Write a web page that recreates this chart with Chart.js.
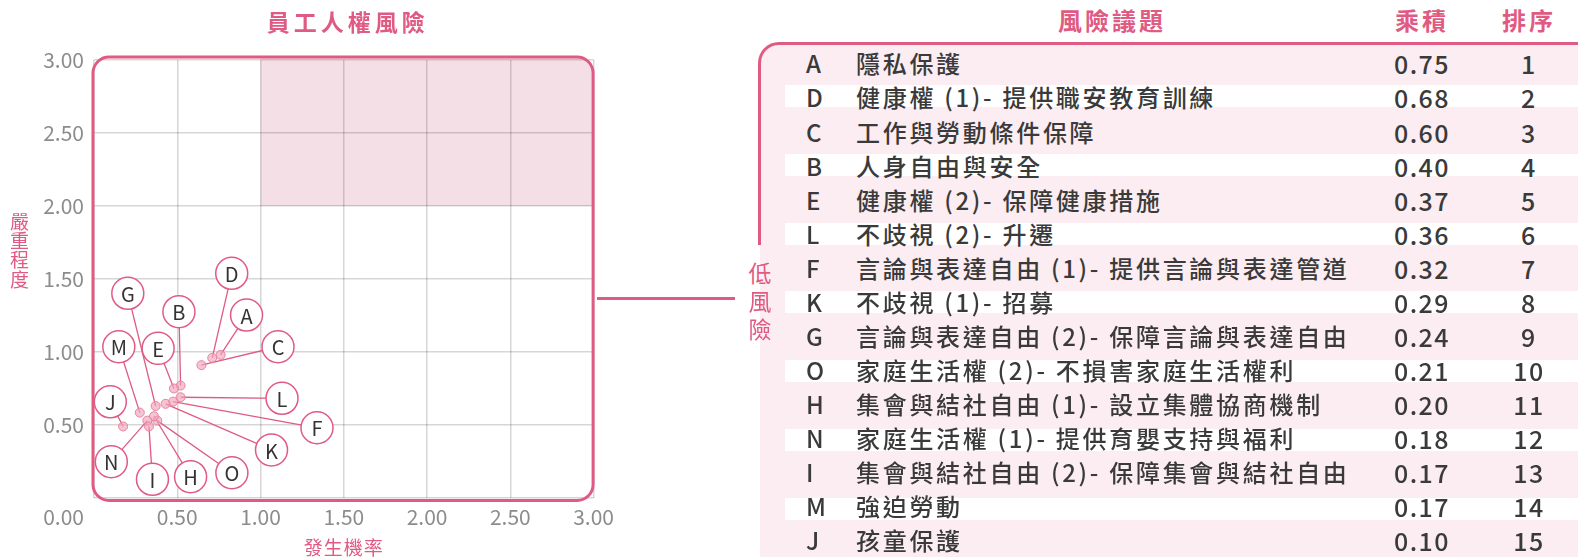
<!DOCTYPE html>
<html><head><meta charset="utf-8">
<script src="https://cdn.jsdelivr.net/npm/chart.js@4.4.1/dist/chart.umd.min.js"></script>
<style>
html,body{margin:0;padding:0;background:#fff;width:1578px;height:557px;overflow:hidden;font-family:"Noto Sans CJK TC","Noto Sans",sans-serif;}
#wrap{position:relative;width:1578px;height:557px;}
#cv{position:absolute;left:0;top:0;}
.abs{position:absolute;}
.hdr{position:absolute;color:#df5b83;font-weight:700;font-size:24px;letter-spacing:3px;line-height:30px;transform:translateX(-50%);white-space:nowrap;}
.cell{position:absolute;color:#3a3a3a;font-size:24px;font-weight:500;line-height:30px;white-space:nowrap;letter-spacing:2.7px;}
.num{transform:translateX(-50%);letter-spacing:1.5px;font-size:25px;}
.ytl{position:absolute;color:#df5b83;font-size:19px;line-height:19px;width:24px;text-align:center;}
</style></head>
<body><div id="wrap">
<canvas id="cv" width="620" height="557"></canvas>
<div id="table"></div>
</div>
<script>
// ---- data ----
const codes = ['A','D','C','B','E','L','F','K','G','O','H','N','I','M','J'];
const issues = [
  '隱私保護',
  '健康權 (1)- 提供職安教育訓練',
  '工作與勞動條件保障',
  '人身自由與安全',
  '健康權 (2)- 保障健康措施',
  '不歧視 (2)- 升遷',
  '言論與表達自由 (1)- 提供言論與表達管道',
  '不歧視 (1)- 招募',
  '言論與表達自由 (2)- 保障言論與表達自由',
  '家庭生活權 (2)- 不損害家庭生活權利',
  '集會與結社自由 (1)- 設立集體協商機制',
  '家庭生活權 (1)- 提供育嬰支持與福利',
  '集會與結社自由 (2)- 保障集會與結社自由',
  '強迫勞動',
  '孩童保護'
];
const products = ['0.75','0.68','0.60','0.40','0.37','0.36','0.32','0.29','0.24','0.21','0.20','0.18','0.17','0.17','0.10'];
const ranks = [1,2,3,4,5,6,7,8,9,10,11,12,13,14,15];
// 發生機率 (x) and 嚴重程度 (y)
const probability = [0.76,0.71,0.645,0.52,0.48,0.52,0.475,0.43,0.37,0.38,0.36,0.32,0.33,0.275,0.175];
const severity    = [0.98,0.96,0.91,0.77,0.75,0.69,0.66,0.645,0.63,0.53,0.56,0.53,0.49,0.585,0.49];
// label bubble anchors (data units)
const labelX = [0.916,0.827,1.105,0.510,0.385,1.129,1.339,1.066,0.203,0.828,0.580,0.104,0.351,0.149,0.098];
const labelY = [1.253,1.539,1.036,1.276,1.025,0.683,0.481,0.329,1.402,0.173,0.146,0.249,0.128,1.036,0.659];
const axisMin = 0, axisMax = 3, axisStep = 0.5;
const highRiskX = [1, 3];
const highRiskY = [2, 3];
const chartTitle = '員工人權風險';
const xTitle = '發生機率';
const yTitle = '嚴重程度';
const tableHeaders = ['風險議題','乘積','排序'];
const lowRiskLabel = '低風險';

// ---- styles ----
const PINK = '#df5b83';
const FONT = '"Noto Sans CJK TC","Noto Sans",sans-serif';

const riskPlugin = {
  id: 'risk',
  beforeDraw(chart) {
    const {ctx, chartArea: a, scales: {x, y}} = chart;
    ctx.save();
    ctx.beginPath();
    ctx.roundRect(a.left - 1, a.top - 3, a.right - a.left + 0.5, a.bottom - a.top + 5.5, 16);
    ctx.clip();
    ctx.fillStyle = '#f5dfe6';
    const l = x.getPixelForValue(highRiskX[0]), r = x.getPixelForValue(highRiskX[1]);
    const t = y.getPixelForValue(highRiskY[1]) - 4, b = y.getPixelForValue(highRiskY[0]);
    ctx.fillRect(l, t, r - l + 4, b - t);
    ctx.restore();
  },
  beforeDatasetsDraw(chart) {
    const {ctx, scales: {x, y}} = chart;
    ctx.save();
    ctx.strokeStyle = PINK;
    ctx.lineWidth = 1.3;
    codes.forEach((c, i) => {
      ctx.beginPath();
      ctx.moveTo(x.getPixelForValue(probability[i]), y.getPixelForValue(severity[i]));
      ctx.lineTo(x.getPixelForValue(labelX[i]), y.getPixelForValue(labelY[i]));
      ctx.stroke();
    });
    ctx.restore();
  },
  afterDatasetsDraw(chart) {
    const {ctx, chartArea: a, scales: {x, y}} = chart;
    ctx.save();
    // bubbles
    codes.forEach((c, i) => {
      const px = x.getPixelForValue(labelX[i]), py = y.getPixelForValue(labelY[i]);
      ctx.beginPath();
      ctx.arc(px, py, 16, 0, Math.PI * 2);
      ctx.fillStyle = '#fff';
      ctx.fill();
      ctx.strokeStyle = PINK;
      ctx.lineWidth = 1.5;
      ctx.stroke();
      ctx.fillStyle = '#333';
      ctx.font = '20px ' + FONT;
      ctx.textAlign = 'center';
      ctx.textBaseline = 'middle';
      ctx.fillText(c, px, py + 1);
    });
    // frame
    ctx.beginPath();
    ctx.roundRect(a.left - 1, a.top - 3, a.right - a.left + 0.5, a.bottom - a.top + 5.5, 16);
    ctx.strokeStyle = PINK;
    ctx.lineWidth = 3;
    ctx.stroke();
    // titles
    ctx.fillStyle = PINK;
    ctx.textAlign = 'center';
    ctx.textBaseline = 'middle';
    ctx.font = 'bold 23px ' + FONT;
    ctx.letterSpacing = '4px';
    ctx.fillText(chartTitle, (a.left + a.right) / 2 + 4, 22);
    ctx.letterSpacing = '1px';
    ctx.font = '19px ' + FONT;
    ctx.fillText(xTitle, (a.left + a.right) / 2, 548);
    ctx.letterSpacing = '0px';
    // origin tick label
    ctx.fillStyle = '#8c8c8c';
    ctx.font = '21px ' + FONT;
    ctx.textAlign = 'right';
    ctx.fillText(axisMin.toFixed(2), 84, 517);
    ctx.restore();
  }
};

const tickFmt = v => (v === axisMin ? '' : Number(v).toFixed(2));

new Chart(document.getElementById('cv'), {
  type: 'scatter',
  data: {
    datasets: [{
      data: probability.map((v, i) => ({x: v, y: severity[i]})),
      pointRadius: 4.5,
      pointBackgroundColor: 'rgba(240,165,188,0.65)',
      pointBorderColor: '#e8819f',
      pointBorderWidth: 1
    }]
  },
  options: {
    responsive: false,
    devicePixelRatio: 1,
    animation: false,
    layout: {padding: {top: 60, right: 22, bottom: 0, left: 0}},
    plugins: {legend: {display: false}, tooltip: {enabled: false}, title: {display: false}},
    scales: {
      x: {
        type: 'linear', min: axisMin, max: axisMax,
        border: {display: false},
        grid: {color: 'rgba(0,0,0,0.16)', lineWidth: 1.5, drawTicks: false},
        ticks: {stepSize: axisStep, callback: tickFmt, color: '#8c8c8c', font: {size: 21, family: FONT}, padding: 6, maxRotation: 0},
        afterFit: s => { s.height = 59; }
      },
      y: {
        type: 'linear', min: axisMin, max: axisMax,
        border: {display: false},
        grid: {color: 'rgba(0,0,0,0.16)', lineWidth: 1.5, drawTicks: false},
        ticks: {stepSize: axisStep, callback: tickFmt, color: '#8c8c8c', font: {size: 21, family: FONT}, padding: 10},
        afterFit: s => { s.width = 94; }
      }
    }
  },
  plugins: [riskPlugin]
});

// ---- table & side text ----
const T = document.getElementById('table');
function add(html) { T.insertAdjacentHTML('beforeend', html); }
// y axis title (stacked)
[...yTitle].forEach((ch, k) => {
  add(`<div class="ytl" style="left:7.5px;top:${211 + k * 19.2}px">${ch}</div>`);
});
// connector
add(`<div class="abs" style="left:597px;top:297px;width:138px;height:3px;background:${PINK}"></div>`);
// pink background
add(`<div class="abs" style="left:760px;top:44px;width:818px;height:513px;background:#fbedf1;border-top-left-radius:20px"></div>`);
// white stripes
for (let k = 0; k < 7; k++) {
  add(`<div class="abs" style="left:785px;top:${85 + 68.8 * k}px;width:793px;height:22px;background:#fff"></div>`);
}
// frame (top + left)
add(`<div class="abs" style="left:758px;top:42px;width:830px;height:203px;border-top:3px solid ${PINK};border-left:3px solid ${PINK};border-top-left-radius:21px;box-sizing:border-box"></div>`);
// low-risk label
[...lowRiskLabel].forEach((ch, k) => {
  add(`<div class="abs" style="left:748px;top:${258 + k * 27.8}px;color:${PINK};font-size:23px;line-height:28px;width:24px;text-align:center">${ch}</div>`);
});
// headers
add(`<div class="hdr" style="left:1112px;top:5px">${tableHeaders[0]}</div>`);
add(`<div class="hdr" style="left:1422px;top:5px">${tableHeaders[1]}</div>`);
add(`<div class="hdr" style="left:1529px;top:5px">${tableHeaders[2]}</div>`);
// rows
codes.forEach((c, i) => {
  const top = 63.4 + 34.07 * i - 15;
  add(`<div class="cell" style="left:806px;top:${top}px">${c}</div>`);
  add(`<div class="cell" style="left:856px;top:${top}px">${issues[i]}</div>`);
  add(`<div class="cell num" style="left:1422px;top:${top}px">${products[i]}</div>`);
  add(`<div class="cell num" style="left:1529px;top:${top}px">${ranks[i]}</div>`);
});
</script>
</body></html>
